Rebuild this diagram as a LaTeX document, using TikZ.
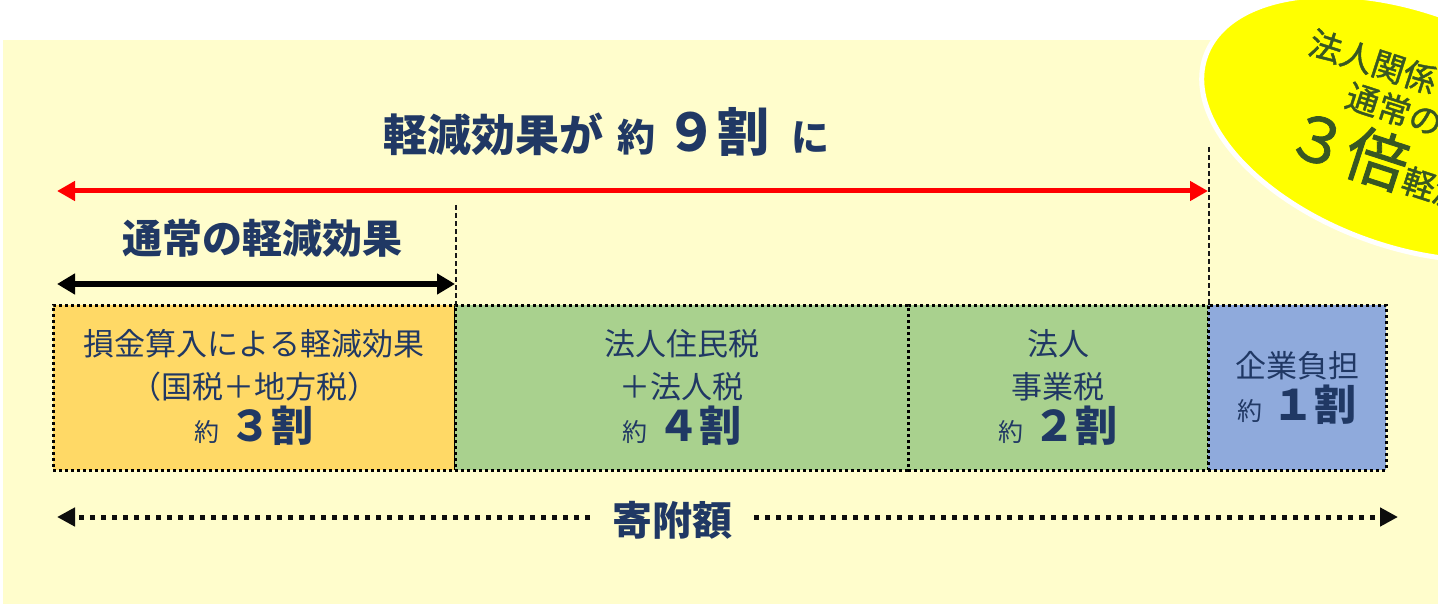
\documentclass[tikz,border=0pt]{standalone}
\usepackage{fontspec}
\setmainfont{Noto Sans CJK JP}
\newfontfamily\ellfont[FakeBold=1.3]{Noto Sans CJK JP}
\usetikzlibrary{arrows.meta}
\definecolor{bgy}{RGB}{255,253,204}
\definecolor{navy}{RGB}{32,56,100}
\definecolor{orangebox}{RGB}{255,217,102}
\definecolor{greenbox}{RGB}{169,209,142}
\definecolor{bluebox}{RGB}{143,170,220}
\definecolor{elltext}{RGB}{56,87,35}
\definecolor{redline}{RGB}{255,0,0}
\definecolor{ellyellow}{RGB}{255,255,0}
\begin{document}
\begin{tikzpicture}[x=0.5pt,y=-0.5pt,
  boxst/.style={draw=black, line width=1.5pt, dash pattern=on 1.5pt off 1.5pt,
    minimum height=82.5pt, inner sep=0pt, text=navy, align=center,
    font=\fontsize{15.5}{21.5}\selectfont},
  redarrow/.style={draw=redline, line width=2.5pt,
    {Triangle[length=9pt,width=9.5pt]}-{Triangle[length=9pt,width=9.5pt]}},
  blackarrow/.style={draw=black, line width=3pt,
    {Triangle[length=9pt,width=10pt]}-{Triangle[length=9pt,width=10pt]}},
  giftarrow/.style={draw=black!95, line width=2.5pt, dash pattern=on 2.5pt off 3pt,
    -{Triangle[length=9pt,width=9pt]}},
  vdash/.style={draw=black!90, line width=1.1pt, dash pattern=on 2.5pt off 1.5pt},
  elltxt/.style={text=elltext, inner sep=0pt, rotate=-18},
  heading/.style={text=navy, font=\bfseries\fontsize{20}{24}\selectfont}
]
\useasboundingbox (0,0) rectangle (1438,604);
\clip (0,0) rectangle (1438,604);
\fill[bgy] (3,40) rectangle (1440,606);

% yellow ellipse
\begin{scope}[shift={(1405,128)}, rotate=-20]
  \filldraw[fill=ellyellow, draw=white, line width=2.5pt] (0,0) ellipse [x radius=106pt, y radius=59pt];
\end{scope}
\node[elltxt, anchor=base west, font=\ellfont\fontsize{16.5}{16}\selectfont] (e1) at (1306,53) {法人関係};
\node[elltxt, anchor=base west, font=\ellfont\fontsize{16.5}{16}\selectfont] (e2) at (1343,106) {通常の};
\node[elltxt, anchor=base west, font=\ellfont] (e3) at (1281,152)
  {{\fontsize{31}{28}\selectfont ３倍}{\fontsize{16.5}{16}\selectfont 軽減}};

% title
\node[text=navy, font=\bfseries] (title) at (606,132)
  {{\fontsize{22}{24}\selectfont 軽減効果が}\hspace{7pt}{\fontsize{19}{24}\selectfont 約}\hspace{5pt}{\fontsize{26}{24}\selectfont ９割}\hspace{11pt}{\fontsize{19}{24}\selectfont に}};

% red arrow
\coordinate (rL) at (57,191);
\coordinate (rR) at (1208,191);
\draw[redarrow] (rL) -- (rR);

% normal effect
\node[heading] (normal) at (262,238) {通常の軽減効果};
\coordinate (bL) at (57,284);
\coordinate (bR) at (455,284);
\draw[blackarrow] (bL) -- (bR);

% boxes
\node[boxst, fill=orangebox, minimum width=201pt] (b1) at (254,387.5)
  {損金算入による軽減効果\\（国税＋地方税）\\{\fontsize{12.5}{21.5}\selectfont 約}\hspace{5pt}{\fontsize{21}{21.5}\selectfont\bfseries ３割}};
\node[boxst, fill=greenbox, minimum width=226.5pt] (b2) at (681.5,387.5)
  {法人住民税\\＋法人税\\{\fontsize{12.5}{21.5}\selectfont 約}\hspace{5pt}{\fontsize{21}{21.5}\selectfont\bfseries ４割}};
\node[boxst, fill=greenbox, minimum width=150pt] (b3) at (1058,387.5)
  {法人\\事業税\\{\fontsize{12.5}{21.5}\selectfont 約}\hspace{5pt}{\fontsize{21}{21.5}\selectfont\bfseries ２割}};
\node[boxst, fill=bluebox, minimum width=89pt] (b4) at (1297,387.5)
  {企業負担\\{\fontsize{12.5}{21.5}\selectfont 約}\hspace{5pt}{\fontsize{21}{21.5}\selectfont\bfseries １割}};

% dashed verticals
\coordinate (d1) at (456,205);
\coordinate (d2) at (1209,147);
\draw[vdash] (d1) -- (d1 |- b2.north);
\draw[vdash] (d2) -- (d2 |- b4.north);

% gift amount arrow
\node[heading, inner xsep=11pt] (gift) at (672,520) {寄附額};
\coordinate (gL) at (57,517);
\coordinate (gR) at (1398,517);
\draw[giftarrow] (gift.west |- gL) -- (gL);
\draw[giftarrow] (gift.east |- gR) -- (gR);
\end{tikzpicture}
\end{document}
